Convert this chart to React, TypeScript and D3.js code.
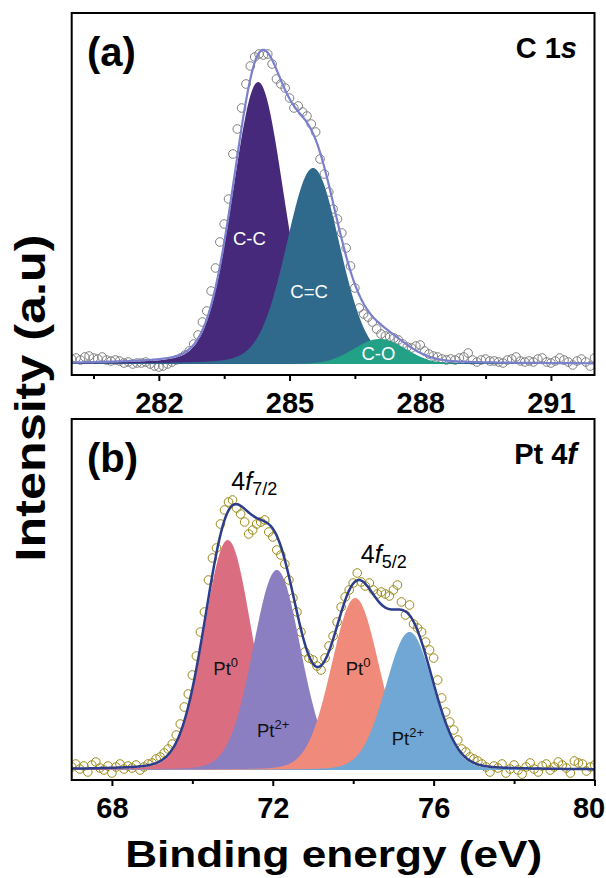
import React, { useEffect, useRef } from 'react'
import * as d3 from 'd3'

const FONT = 'Arial, "Liberation Sans", Helvetica, sans-serif'

// (a) C 1s -- counts every 0.1 eV starting at 280 eV
const c1sStart = 280
const c1sCounts = [
  5, 6, 4, 7, 8, 6, 5, 7, 4, 3,
  4, 3, 1, 2, 0, 1, 1, 2, 0, -2,
  -3, -2, 0, 2, 4, 6, 9, 13, 20, 29,
  42, 53, 73, 96, 122, 140, 165, 210, 235, 256,
  280, 298, 307, 310, 309, 310, 300, 285, 280, 276,
  266, 256, 258, 252, 248, 240, 232, 205, 190, 172,
  155, 145, 131, 116, 98, 76, 56, 50, 47, 42,
  35, 30, 28, 27, 26, 24, 20, 17, 16, 18,
  19, 13, 10, 8, 7, 5, 4, 5, 4, 6,
  7, 11, 4, 2, 4, 5, 3, 3, 2, 1,
  4, 5, 7, 3, 2, 3, 2, 5, 6, 2,
  1, 3, 6, 4, 2, -1, 3, 5, 2, -2,
  6
]
const c1sNames = ['C-C', 'C=C', 'C-O']
const c1sCenters = [284.28, 285.54, 287.07]
const c1sHeights = [282, 196, 25]
const c1sFwhm = [1.38, 1.45, 1.4]
const c1sLorentz = [0.15, 0.15, 0]
const c1sLabelAt = [[284.08, 119], [285.45, 66], [287.04, 4]]
const c1sColors = ['#46297a', '#2f6a8d', '#22a187']
const c1sTicks = [282, 285, 288, 291]
const c1sMinor = [280.5, 283.5, 286.5, 289.5]

// (b) Pt 4f -- counts every 0.1 eV starting at 67 eV
const pt4fStart = 67
const pt4fCounts = [
  3, 6, 1, 4, -2, 5, 8, 2, 0, 4,
  -3, 3, 6, 1, 4, 2, 5, 0, 3, 6,
  7, 11, 13, 17, 21, 26, 35, 46, 63, 76,
  95, 114, 138, 158, 190, 212, 222, 246, 260, 268,
  270, 262, 256, 248, 236, 240, 246, 248, 250, 238,
  233, 220, 215, 206, 190, 172, 158, 138, 118, 112,
  110, 104, 100, 112, 124, 134, 148, 163, 173, 180,
  187, 197, 188, 184, 187, 180, 176, 178, 176, 174,
  180, 185, 168, 155, 165, 146, 142, 138, 128, 120,
  112, 90, 72, 58, 48, 40, 30, 21, 18, 13,
  11, 9, 6, 3, -2, 4, 2, 6, -3, 1,
  5, 0, -4, 3, 7, 1, -2, 4, 6, 0,
  3, 8, 5, 2, -3, 9, 7, 6, -1, 3,
  5
]
const pt4fNames = [['Pt', '0'], ['Pt', '2+'], ['Pt', '0'], ['Pt', '2+']]
const pt4fCenters = [70.88, 72.1, 74.05, 75.4]
const pt4fHeights = [230, 200, 172, 138]
const pt4fFwhm = [1.4, 1.4, 1.4, 1.4]
const pt4fLorentz = [0.1, 0.1, 0.1, 0.1]
const pt4fLabelAt = [[70.83, 95], [72.01, 33], [74.12, 95], [75.36, 25]]
const pt4fColors = ['#da6d80', '#8b7fc1', '#f08a7a', '#70a7d4']
const pt4fDoublets = [['7/2', 71.54, 280], ['5/2', 74.76, 207]]
const pt4fTicks = [68, 72, 76, 80]
const pt4fMinor = [70, 74, 78]

const LEFT = 71.7
const RIGHT = 594.5

// Gaussian-Lorentzian sum line shape
const gl = (e, c, h, w, eta) => {
  const r = (e - c) / w
  return h * ((1 - eta) * Math.exp(-4 * Math.LN2 * r * r) + eta / (1 + 4 * r * r))
}

function drawPanel(svg, p) {
  const x = d3.scaleLinear().domain(p.xDomain).range([LEFT, RIGHT])
  const y = d3.scaleLinear().domain(p.yDomain).range([p.bottom, p.top])
  const g = svg.append('g')

  svg.append('defs').append('clipPath').attr('id', 'clip-' + p.id)
    .append('rect')
      .attr('x', LEFT).attr('y', p.top)
      .attr('width', RIGHT - LEFT).attr('height', p.bottom - p.top)

  const plot = g.append('g').attr('clip-path', `url(#clip-${p.id})`)

  const energies = p.counts.map((_, i) => p.start + i * 0.1)
  plot.selectAll('circle')
    .data(p.counts)
    .join('circle')
      .attr('cx', (d, i) => x(energies[i]))
      .attr('cy', d => y(d))
      .attr('r', 4.3)
      .attr('fill', 'none')
      .attr('stroke', p.dotColor)
      .attr('stroke-width', 1)

  const grid = d3.range(p.xDomain[0], p.xDomain[1] + 0.001, 0.02)
  const comp = (e, k) => gl(e, p.centers[k], p.heights[k], p.fwhm[k], p.lorentz[k])

  p.centers.forEach((c, k) => {
    const area = d3.area()
      .x(e => x(e))
      .y0(y(0))
      .y1(e => y(comp(e, k)))
    plot.append('path').datum(grid).attr('d', area).attr('fill', p.colors[k])
  })

  const envelope = d3.line()
    .x(e => x(e))
    .y(e => y(d3.sum(p.centers, (c, k) => comp(e, k))))
    .curve(d3.curveMonotoneX)
  plot.append('path').datum(grid)
    .attr('d', envelope)
    .attr('fill', 'none')
    .attr('stroke', p.lineColor)
    .attr('stroke-width', p.lineWidth)

  // peak labels
  p.labels.forEach((lab, k) => {
    const t = g.append('text')
      .attr('x', x(p.labelAt[k][0]))
      .attr('y', y(p.labelAt[k][1]))
      .attr('text-anchor', 'middle')
      .attr('font-family', FONT)
      .attr('font-size', 18.5)
      .attr('fill', p.labelColor)
    if (Array.isArray(lab)) {
      t.append('tspan').text(lab[0])
      t.append('tspan').attr('dy', -8).attr('font-size', 13).text(lab[1])
    } else {
      t.text(lab)
    }
  })

  // frame
  g.append('rect')
    .attr('x', LEFT).attr('y', p.top)
    .attr('width', RIGHT - LEFT).attr('height', p.bottom - p.top)
    .attr('fill', 'none')
    .attr('stroke', '#000')
    .attr('stroke-width', 2)

  const major = d3.axisBottom(x).tickValues(p.ticks).tickSize(6).tickPadding(11)
    .tickFormat(d3.format('d'))
  g.append('g')
    .attr('transform', `translate(0,${p.bottom})`)
    .call(major)
    .attr('color', '#000')
    .attr('font-family', FONT)
    .attr('font-size', 29)
    .attr('font-weight', 'bold')
    .call(a => a.select('.domain').remove())
    .call(a => a.selectAll('line').attr('stroke-width', 2))
    // keep the last label inside the page
    .call(a => a.selectAll('.tick text').attr('dx', d => (x(d) > RIGHT - 1 ? -6 : 0)))

  const minor = d3.axisBottom(x).tickValues(p.minor).tickSize(4).tickFormat(() => '')
  g.append('g')
    .attr('transform', `translate(0,${p.bottom})`)
    .call(minor)
    .attr('color', '#000')
    .call(a => a.select('.domain').remove())
    .call(a => a.selectAll('line').attr('stroke-width', 2))

  // panel tag and core level
  g.append('text')
    .attr('x', 87).attr('y', p.top + 53)
    .attr('font-family', FONT).attr('font-size', 40).attr('font-weight', 'bold')
    .text(p.tag)
  const core = g.append('text')
    .attr('x', 577).attr('y', p.top + 45)
    .attr('text-anchor', 'end')
    .attr('font-family', FONT).attr('font-size', 29).attr('font-weight', 'bold')
  core.append('tspan').text(p.core[0])
  core.append('tspan').attr('font-style', 'italic').text(p.core[1])

  return { x, y, g }
}

function XpsFigure() {
  const d3Container = useRef(null)

  useEffect(() => {
    if (!d3Container.current) return
    const svg = d3.select(d3Container.current)
    svg.selectAll('*').remove()

    drawPanel(svg, {
      id: 'c1s',
      top: 13, bottom: 375,
      xDomain: [280, 292], yDomain: [-11, 351],
      start: c1sStart, counts: c1sCounts,
      centers: c1sCenters, heights: c1sHeights, fwhm: c1sFwhm, lorentz: c1sLorentz,
      colors: c1sColors, labels: c1sNames, labelAt: c1sLabelAt, labelColor: '#fff',
      dotColor: '#808080', lineColor: '#7b80cc', lineWidth: 2.2,
      ticks: c1sTicks, minor: c1sMinor,
      tag: '(a)', core: ['C 1', 's']
    })

    const b = drawPanel(svg, {
      id: 'pt4f',
      top: 419, bottom: 780,
      xDomain: [67, 80], yDomain: [-10, 351],
      start: pt4fStart, counts: pt4fCounts,
      centers: pt4fCenters, heights: pt4fHeights, fwhm: pt4fFwhm, lorentz: pt4fLorentz,
      colors: pt4fColors, labels: pt4fNames, labelAt: pt4fLabelAt, labelColor: '#111',
      dotColor: '#9c8b17', lineColor: '#2d3d8c', lineWidth: 2.5,
      ticks: pt4fTicks, minor: pt4fMinor,
      tag: '(b)', core: ['Pt 4', 'f']
    })

    pt4fDoublets.forEach(([sub, e, v]) => {
      const t = b.g.append('text')
        .attr('x', b.x(e)).attr('y', b.y(v))
        .attr('text-anchor', 'middle')
        .attr('font-family', FONT).attr('font-size', 25)
      t.append('tspan').text('4')
      t.append('tspan').attr('font-style', 'italic').text('f')
      t.append('tspan').attr('dy', 5).attr('font-size', 18).text(sub)
    })

    // axis titles
    svg.append('text')
      .attr('transform', 'translate(45,398) rotate(-90)')
      .attr('text-anchor', 'middle')
      .attr('font-family', FONT).attr('font-size', 42).attr('font-weight', 'bold')
      .attr('textLength', 327).attr('lengthAdjust', 'spacingAndGlyphs')
      .text('Intensity (a.u)')
    svg.append('text')
      .attr('x', 333.7).attr('y', 867)
      .attr('text-anchor', 'middle')
      .attr('font-family', FONT).attr('font-size', 37).attr('font-weight', 'bold')
      .attr('textLength', 417).attr('lengthAdjust', 'spacingAndGlyphs')
      .text('Binding energy (eV)')
  }, [])

  return <svg ref={d3Container} width={606} height={878} style={{ display: 'block' }} />
}

export default function App() {
  return (
    <div style={{ position: 'absolute', left: 0, top: 0, background: '#fff' }}>
      <XpsFigure />
    </div>
  )
}
